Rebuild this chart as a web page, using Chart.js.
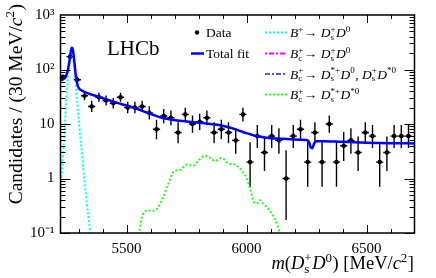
<!DOCTYPE html>
<html><head><meta charset="utf-8">
<script src="https://cdn.jsdelivr.net/npm/chart.js@4.4.1/dist/chart.umd.min.js"></script>
<style>html,body{margin:0;padding:0;background:#fff;}canvas{display:block;}</style>
</head><body>
<div style="width:436px;height:278px;position:relative"><canvas id="c" width="436" height="278"></canvas></div>
<script>
// ---- data ----
const binCenters = [5235,5265,5295,5325,5355,5385,5415,5445,5475,5505,5535,5565,5595,5625,5655,5685,5715,5745,5775,5805,5835,5865,5895,5925,5955,5985,6015,6045,6075,6105,6135,6165,6195,6225,6255,6285,6315,6345,6375,6405,6435,6465,6495,6525,6555,6585,6615,6645,6675];
const counts = [72,172,65,33,21,31,27,24,31,20,20,21,16,8,14,13,7,15,10,11,13,7,8,7,5,15,2,6,3,6,5,1,6,8,2,7,2,10,2,4,5,3,7,6,2,3,6,6,6];
const errLow = [63.8,159.4,57.3,27.4,16.6,25.6,21.9,19.2,25.6,15.7,15.7,16.6,12.1,5.23,10.3,9.44,4.42,11.17,6.89,7.73,9.44,4.42,5.23,4.42,2.84,11.17,0.708,3.62,1.367,3.62,2.84,0.173,3.62,5.23,0.708,4.42,0.708,6.89,0.708,2.086,2.84,1.367,4.42,3.62,0.708,1.367,3.62,3.62,3.62];
const errHigh = [81.5,185.6,74.4,39.8,26.6,37.6,33.2,29.9,37.6,25.5,25.5,26.6,21.1,11.95,18.83,17.7,10.77,19.96,14.27,15.42,17.7,10.77,11.95,10.77,8.38,19.96,4.64,9.58,5.92,9.58,8.38,3.3,9.58,11.95,4.64,10.77,4.64,14.27,4.64,7.16,8.38,5.92,10.77,9.58,4.64,5.92,9.58,9.58,9.58];

const fitMass = [5225,5235,5245,5252,5258,5263,5268,5272,5276,5280,5285,5290,5296,5302,5310,5330,5360,5390,5420,5450,5480,5515,5550,5580,5610,5640,5680,5720,5760,5806,5850,5890,5930,5960,5990,6015,6042,6084,6150,6220,6250,6260,6268,6274,6282,6292,6320,6400,6500,6600,6700];
const fitVal  = [63,66,72,85,110,150,215,250,235,180,110,70,52,45,42,38,34,31,28,25.5,23,21,18.5,16.5,14.8,13.3,12.2,11.5,11,10.5,10,9.5,8.6,7.8,7.0,6.5,6.0,5.6,5.35,5.15,5.1,4.7,3.7,3.6,4.4,4.85,4.85,4.7,4.55,4.45,4.4];

const bpMass = [5225,5232,5237,5241,5245,5248,5254,5260,5266,5271,5275,5280,5285,5290,5295,5301,5307,5314,5320,5327,5334,5341,5349,5356];
const bpVal  = [0.75,1.5,3.5,6,13,25,55,105,165,195,190,145,90,45,24,12,6,3,1.5,0.75,0.37,0.2,0.105,0.07];

const bcDsDMass = [];   // B_c -> Ds D0 (not visible on the log scale)
const bcDsDVal  = [];
const bcPartMass = [];  // B_c -> Ds* D0, Ds D*0 (not visible)
const bcPartVal  = [];

const bcDsStarMass = [5546,5552,5563,5577,5595,5612,5633,5653,5674,5698,5723,5751,5778,5802,5827,5848,5869,5897,5924,5952,5980,6001,6017,6031,6045,6056,6066,6084,6105,6126,6140,6150];
const bcDsStarVal  = [0.08,0.1,0.185,0.25,0.26,0.255,0.3,0.46,0.8,1.36,1.44,1.8,1.72,2.2,2.62,2.38,2.1,2.38,1.9,1.8,1.4,1.0,0.6,0.37,0.35,0.4,0.36,0.3,0.23,0.15,0.1,0.08];

const xTickValues = [5500,6000,6500];
const yTickValues = [0.1,1,10,100,1000];
const yTickLabels = ['10\u207B\u00B9','1','10','10\u00B2','10\u00B3'];

const pts = (xs, ys) => xs.map((x,i)=>({x:x, y:ys[i]}));
const SERIF = '"Liberation Serif","Times New Roman",serif';

const COL = {fit:'#0000ff', bp:'#00ffff', bc:'#ff00ff', part:'#5a5adc', star:'#22ff22'};

// rich text helper (italics, stacked sub/superscripts)
function richWidth(ctx, parts, size){
  let w=0;
  for(const p of parts){
    if(p.t!==undefined){ ctx.font=(p.it?'italic ':'')+size+'px '+SERIF; w+=ctx.measureText(p.t).width; }
    else { ctx.font=Math.round(size*0.68)+'px '+SERIF;
      w+=Math.max(p.sup?ctx.measureText(p.sup).width:0, p.sub?ctx.measureText(p.sub).width:0)+0.5; }
  }
  return w;
}
function drawRich(ctx, x, y, parts, size, align){
  let w=richWidth(ctx, parts, size);
  let cx = align==='right'? x-w : x;
  ctx.textAlign='left'; ctx.textBaseline='alphabetic'; ctx.fillStyle='#000';
  for(const p of parts){
    if(p.t!==undefined){ ctx.font=(p.it?'italic ':'')+size+'px '+SERIF; ctx.fillText(p.t,cx,y); cx+=ctx.measureText(p.t).width; }
    else { const s=Math.round(size*0.68); ctx.font=s+'px '+SERIF;
      let ww=0;
      if(p.sup){ ctx.fillText(p.sup,cx,y-size*0.40); ww=Math.max(ww,ctx.measureText(p.sup).width); }
      if(p.sub){ ctx.fillText(p.sub,cx,y+size*0.22); ww=Math.max(ww,ctx.measureText(p.sub).width); }
      cx+=ww+0.5; }
  }
}

const decor = {
  id:'decor',
  beforeDatasetsDraw(chart){
    const ctx=chart.ctx, xs=chart.scales.x, ys=chart.scales.y, a=chart.chartArea;
    ctx.save();
    ctx.beginPath(); ctx.rect(a.left,a.top,a.right-a.left,a.bottom-a.top); ctx.clip();
    ctx.strokeStyle='#000'; ctx.lineWidth=1.4;
    for(let i=0;i<binCenters.length;i++){
      const px=xs.getPixelForValue(binCenters[i]);
      const y0=ys.getPixelForValue(errLow[i]), y1=ys.getPixelForValue(errHigh[i]);
      const py=ys.getPixelForValue(counts[i]);
      const hx0=xs.getPixelForValue(binCenters[i]-15), hx1=xs.getPixelForValue(binCenters[i]+15);
      ctx.beginPath(); ctx.moveTo(px,y0); ctx.lineTo(px,y1); ctx.moveTo(hx0,py); ctx.lineTo(hx1,py); ctx.stroke();
    }
    ctx.restore();
  },
  afterDraw(chart){
    const ctx=chart.ctx, xs=chart.scales.x, ys=chart.scales.y, a=chart.chartArea;
    ctx.save();
    ctx.strokeStyle='#000'; ctx.lineWidth=1.5;
    ctx.strokeRect(a.left,a.top,a.right-a.left,a.bottom-a.top);
    ctx.lineWidth=1;
    ctx.beginPath();
    for(let v=5300; v<=6600; v+=100){
      const px=Math.round(xs.getPixelForValue(v))+0.5;
      const L = (v%500===0)?8:4;
      ctx.moveTo(px,a.bottom); ctx.lineTo(px,a.bottom-L);
      ctx.moveTo(px,a.top); ctx.lineTo(px,a.top+L);
    }
    for(let d=0.1; d<1000; d*=10){
      for(let k=1;k<=9;k++){
        const v=d*k; const py=Math.round(ys.getPixelForValue(v))+0.5;
        const L=(k===1)?10:5;
        ctx.moveTo(a.left,py); ctx.lineTo(a.left+L,py);
        ctx.moveTo(a.right,py); ctx.lineTo(a.right-L,py);
      }
    }
    ctx.stroke();

    // LHCb label
    ctx.fillStyle='#000'; ctx.font='21px '+SERIF; ctx.textAlign='left'; ctx.textBaseline='alphabetic';
    ctx.fillText('LHCb',107,55);

    // legend
    const fs=13.5;
    ctx.beginPath(); ctx.arc(197,32.5,2.2,0,Math.PI*2); ctx.fill();
    ctx.font=fs+'px '+SERIF; ctx.fillText('Data',206,37);
    ctx.strokeStyle=COL.fit; ctx.lineWidth=2.5; ctx.setLineDash([]);
    ctx.beginPath(); ctx.moveTo(191,53.5); ctx.lineTo(204,53.5); ctx.stroke();
    ctx.fillText('Total fit',206,58);

    const rows=[
      {c:COL.bp, dash:[2,2], y:32.5, parts:[{t:'B',it:1},{sup:'+'},{t:'\u2192 '},{t:'D',it:1},{sup:'+',sub:'s'},{t:'D',it:1},{sup:'0'}]},
      {c:COL.bc, dash:[2,2,5,2], y:53.5, parts:[{t:'B',it:1},{sup:'+',sub:'c'},{t:'\u2192 '},{t:'D',it:1},{sup:'+',sub:'s'},{t:'D',it:1},{sup:'0'}]},
      {c:COL.part, dash:[5,2,2,2], y:74, parts:[{t:'B',it:1},{sup:'+',sub:'c'},{t:'\u2192 '},{t:'D',it:1},{sup:'*+',sub:'s'},{t:'D',it:1},{sup:'0'},{t:', '},{t:'D',it:1},{sup:'+',sub:'s'},{t:'D',it:1},{sup:'*0'}]},
      {c:COL.star, dash:[2,2], y:94.5, parts:[{t:'B',it:1},{sup:'+',sub:'c'},{t:'\u2192 '},{t:'D',it:1},{sup:'*+',sub:'s'},{t:'D',it:1},{sup:'*0'}]}
    ];
    for(const r of rows){
      ctx.strokeStyle=r.c; ctx.lineWidth=2; ctx.setLineDash(r.dash);
      ctx.beginPath(); ctx.moveTo(265,r.y); ctx.lineTo(287,r.y); ctx.stroke();
      ctx.setLineDash([]);
      drawRich(ctx,290,r.y+4.5,r.parts,fs,'left');
    }

    // axis titles
    drawRich(ctx,414,269,[{t:'m',it:1},{t:'('},{t:'D',it:1},{sup:'+',sub:'s'},{t:'D',it:1},{sup:'0'},{t:') [MeV/'},{t:'c',it:1},{sup:'2'},{t:']'}],18.5,'right');
    ctx.save();
    ctx.translate(22,4); ctx.rotate(-Math.PI/2);
    drawRich(ctx,0,0,[{t:'Candidates / (30 MeV/'},{t:'c',it:1},{sup:'2'},{t:')'}],19.5,'right');
    ctx.restore();
    ctx.restore();
  }
};

new Chart(document.getElementById('c'), {
  type:'scatter',
  data:{datasets:[
    {label:'Data', data:pts(binCenters,counts), pointRadius:2.3, pointBackgroundColor:'#000', pointBorderWidth:0, showLine:false, order:10},
    {label:'Bc Ds* D*0', data:pts(bcDsStarMass,bcDsStarVal), showLine:true, pointRadius:0, borderColor:COL.star, borderWidth:2, borderDash:[2,2], cubicInterpolationMode:'monotone', clip:0, order:5},
    {label:'Bc Ds D0', data:pts(bcDsDMass,bcDsDVal), showLine:true, pointRadius:0, borderColor:COL.bc, borderWidth:2, borderDash:[2,2,5,2], clip:0, order:6},
    {label:'Bc part', data:pts(bcPartMass,bcPartVal), showLine:true, pointRadius:0, borderColor:COL.part, borderWidth:2, borderDash:[5,2,2,2], clip:0, order:7},
    {label:'B+ Ds D0', data:pts(bpMass,bpVal), showLine:true, pointRadius:0, borderColor:COL.bp, borderWidth:2, borderDash:[2,2], cubicInterpolationMode:'monotone', clip:0, order:4},
    {label:'Total fit', data:pts(fitMass,fitVal), showLine:true, pointRadius:0, borderColor:COL.fit, borderWidth:2.5, cubicInterpolationMode:'monotone', clip:0, order:1}
  ]},
  options:{
    responsive:false, animation:false, devicePixelRatio:1,
    layout:{padding:{left:0,right:21.5,top:12.7,bottom:0}},
    plugins:{legend:{display:false}, tooltip:{enabled:false}},
    scales:{
      x:{type:'linear', min:5225, max:6700,
        grid:{display:false, drawTicks:false}, border:{display:false},
        afterBuildTicks:(s)=>{ s.ticks = xTickValues.map(v=>({value:v})); },
        afterFit:(s)=>{ s.height=45; },
        ticks:{color:'#000', font:{family:SERIF, size:15}, padding:7.5, maxRotation:0, autoSkip:false,
          callback:(v)=>String(v)}},
      y:{type:'logarithmic', min:0.1, max:1000,
        grid:{display:false, drawTicks:false}, border:{display:false},
        afterBuildTicks:(s)=>{ s.ticks = yTickValues.map(v=>({value:v})); },
        afterFit:(s)=>{ s.width=60.5; },
        ticks:{color:'#000', font:{family:SERIF, size:15}, padding:6, autoSkip:false,
          callback:(v)=>{ const i=yTickValues.findIndex(t=>Math.abs(t-v)<1e-9*Math.max(1,v)); return i>=0?yTickLabels[i]:''; }}}
    }
  },
  plugins:[decor]
});
</script>
</body></html>
